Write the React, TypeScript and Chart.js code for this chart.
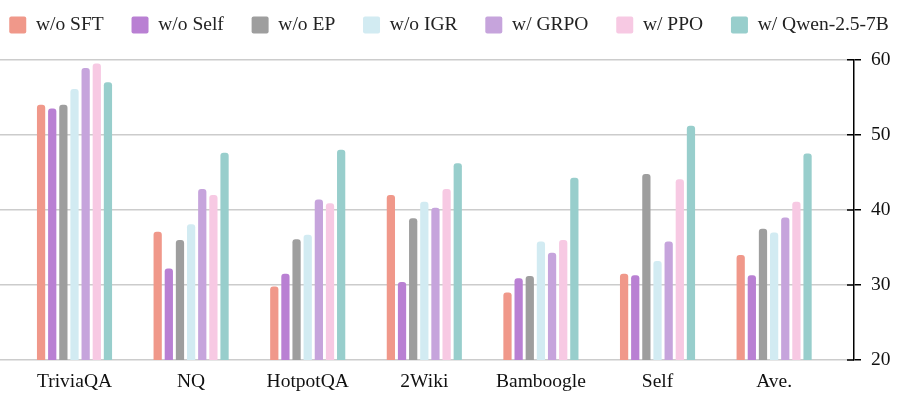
import React, { useEffect, useRef } from "react";
import { Chart, registerables } from "chart.js";

Chart.register(...registerables);

const categories = ["TriviaQA", "NQ", "HotpotQA", "2Wiki", "Bamboogle", "Self", "Ave."];
const seriesNames = ["w/o SFT", "w/o Self", "w/o EP", "w/o IGR", "w/ GRPO", "w/ PPO", "w/ Qwen-2.5-7B"];
const seriesColors = ["#F0988A", "#B980D3", "#9E9E9E", "#D2EBF2", "#C6A4DC", "#F7C9E3", "#98CECC"];

const woSFT = [54.0, 37.1, 29.8, 42.0, 29.0, 31.5, 34.0];
const woSelf = [53.5, 32.2, 31.5, 30.4, 30.9, 31.3, 31.3];
const woEP = [54.0, 36.0, 36.1, 38.9, 31.2, 44.8, 37.5];
const woIGR = [56.1, 38.1, 36.7, 41.1, 35.8, 33.2, 37.0];
const wGRPO = [58.9, 42.8, 41.4, 40.3, 34.3, 35.8, 39.0];
const wPPO = [59.5, 42.0, 40.9, 42.8, 36.0, 44.1, 41.1];
const wQwen = [57.0, 47.6, 48.0, 46.2, 44.3, 51.2, 47.5];

const seriesValues = [woSFT, woSelf, woEP, woIGR, wGRPO, wPPO, wQwen];
const yTicks = [20, 30, 40, 50, 60];

const FONT = "'Liberation Serif', 'Times New Roman', serif";

const innerTicks = {
  id: "innerTicks",
  afterDraw(chart: any) {
    const y = chart.scales.y;
    const ctx = chart.ctx;
    ctx.save();
    ctx.strokeStyle = "#000";
    ctx.lineWidth = 1.5;
    ctx.beginPath();
    yTicks.forEach((v) => {
      const py = y.getPixelForValue(v);
      ctx.moveTo(y.left - 7, py);
      ctx.lineTo(y.left, py);
    });
    ctx.stroke();
    ctx.restore();
  },
};

export default function App() {
  const ref = useRef<HTMLCanvasElement | null>(null);
  useEffect(() => {
    if (!ref.current) return;
    const chart = new Chart(ref.current, {
      type: "bar",
      data: {
        datasets: seriesNames.map((name, k) => ({
          label: name,
          data: seriesValues[k].map((v, i) => ({ x: i, y: v })),
          backgroundColor: seriesColors[k],
          borderWidth: 0,
          borderRadius: { topLeft: 3, topRight: 3, bottomLeft: 0, bottomRight: 0 },
          borderSkipped: "start",
          categoryPercentage: 0.669,
          barPercentage: 0.74,
        })),
      },
      plugins: [innerTicks],
      options: {
        animation: false,
        responsive: false,
        layout: { padding: { top: -12.5, right: -24, left: -24, bottom: 0 } },
        plugins: {
          legend: {
            position: "top",
            weight: 2000,
            labels: {
              boxWidth: 17,
              boxHeight: 17,
              useBorderRadius: true,
              borderRadius: 2,
              padding: 27.8,
              color: "#222",
              font: { family: FONT, size: 19.5 },
            },
          },
          subtitle: {
            display: true,
            text: "",
            position: "top",
            weight: 500,
            padding: { top: 0, bottom: 5 },
            font: { size: 10, lineHeight: 1 },
          },
          tooltip: { enabled: false },
        },
        scales: {
          x: {
            type: "linear",
            min: -0.639,
            max: 6.685,
            offset: false,
            grid: { display: false, drawTicks: false },
            border: { display: false },
            afterFit: (axis: any) => {
              axis.height = 36;
            },
            ticks: {
              stepSize: 1,
              includeBounds: false,
              padding: 10,
              color: "#111",
              font: { family: FONT, size: 19.5 },
              callback: (v: any) => categories[Number(v)] ?? "",
            },
          },
          y: {
            position: "right",
            min: 20,
            max: 60,
            afterBuildTicks: (axis: any) => {
              axis.ticks = yTicks.map((v) => ({ value: v }));
            },
            afterFit: (axis: any) => {
              axis.width = 68;
            },
            grid: { color: "#cccccc", lineWidth: 1.5, tickLength: 7, tickColor: "#000", tickWidth: 1.5 },
            border: { display: true, color: "#000", width: 1.5 },
            ticks: {
              padding: 10,
              color: "#111",
              font: { family: FONT, size: 19.5 },
            },
          },
        },
      },
    });
    return () => chart.destroy();
  }, []);
  return (
    <div style={{ position: "absolute", left: 0, top: 0, width: 898, height: 396 }}>
      <canvas ref={ref} width={898} height={396} />
    </div>
  );
}
